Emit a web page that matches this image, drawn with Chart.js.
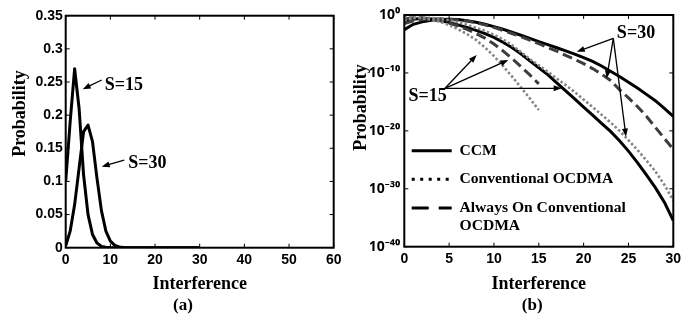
<!DOCTYPE html>
<html><head><meta charset="utf-8">
<script src="https://cdn.jsdelivr.net/npm/chart.js@4"></script>
<style>
html,body{margin:0;padding:0;background:#fff;}
#wrap{position:relative;width:699px;height:329px;overflow:hidden;background:#fff;}
#chartA{position:absolute;left:0;top:0;}
#chartB{position:absolute;left:350px;top:0;}
</style></head><body>
<div id="wrap">
<canvas id="chartA" width="350" height="329"></canvas>
<canvas id="chartB" width="349" height="329"></canvas>
</div>
<script>
// ---------- data ----------
const interference = [0,1,2,3,4,5,6,7,8,9,10,11,12,13,14,15,16,17,18,19,20,21,22,23,24,25,26,27,28,29,30];
const interference15 = [0,1,2,3,4,5,6,7,8,9,10,11,12,13,14,15];

// panel (a): linear probability
const probS15 = [0.1,0.19,0.27,0.21,0.11,0.05,0.02,0.007,0.002,0.0006,0.00014,0,0,0,0,0,0,0,0,0,0,0,0,0,0,0,0,0,0,0,0];
const probS30 = [0.003,0.025,0.065,0.12,0.175,0.185,0.16,0.105,0.056,0.025,0.01,0.0035,0.0011,0.0003,0.0001,0,0,0,0,0,0,0,0,0,0,0,0,0,0,0,0];

// panel (b): log probability
const ccmS30  = [3.0e-3,2.5e-2,6.5e-2,0.12,0.175,0.185,0.16,0.105,0.056,0.025,1.0e-2,3.5e-3,1.1e-3,3.2e-4,8.9e-5,2.5e-5,7.9e-6,2.2e-6,6.3e-7,1.8e-7,4.5e-8,1.0e-8,1.6e-9,2.0e-10,2.5e-11,2.5e-12,2.5e-13,2.0e-14,1.6e-15,7.9e-17,3.2e-18];
const aonS30  = [3.2e-2,0.1,0.166,0.21,0.22,0.19,0.14,8.9e-2,4.5e-2,2.0e-2,7.1e-3,2.2e-3,6.3e-4,1.8e-4,4.5e-5,1.1e-5,2.5e-6,5.6e-7,1.1e-7,2.2e-8,4.0e-9,5.6e-10,6.3e-11,5.0e-12,1.26e-13,5.0e-15,1.6e-16,3.2e-18,4.0e-20,5.0e-22,6.3e-24];
const convS30 = [0.126,0.28,0.35,0.32,0.22,0.126,5.6e-2,2.0e-2,6.3e-3,1.8e-3,4.0e-4,6.3e-5,6.3e-6,4.0e-7,2.5e-8,2.0e-9,1.6e-10,1.1e-11,7.9e-13,5.0e-14,2.5e-15,1.26e-16,6.3e-18,2.8e-19,1.0e-20,2.5e-22,5.0e-24,7.9e-26,1.0e-27,5.0e-30,1.0e-32];
const ccmS15  = [0.1,0.19,0.27,0.21,0.112,0.05,0.02,7.1e-3,2.2e-3,6.3e-4,1.4e-4,2.0e-5,2.5e-6,2.0e-7,1.26e-8,7.9e-10,5.0e-11,2.0e-12,7.9e-14,3.2e-15,1.26e-16,5.0e-18,2.0e-19,7.9e-21,2.0e-22,3.2e-24,3.2e-26,2.5e-28,1.6e-30,5.0e-33,3.2e-36];
const aonS15  = [0.2,0.32,0.32,0.2,0.1,0.04,1.26e-2,3.2e-3,6.3e-4,1.0e-4,1.0e-5,6.3e-7,3.2e-8,1.26e-9,4.5e-11,1.26e-12];
const convS15 = [0.45,0.42,0.28,0.14,7.0e-2,1.8e-2,3.5e-3,5.0e-4,5.0e-5,2.5e-6,7.9e-8,1.6e-9,2.5e-11,3.2e-13,4.0e-15,4.0e-17];

// ticks
const xTicksA = [0,10,20,30,40,50,60];
const yTicksA = [0,0.05,0.1,0.15,0.2,0.25,0.3,0.35];
const xTicksB = [0,5,10,15,20,25,30];
const yTicksB = [1e-40,1e-30,1e-20,1e-10,1];

// legend / labels
const legendNames = ['CCM','Conventional OCDMA',['Always On Conventional','OCDMA']];

// annotation anchors (data coordinates)
const annotA = [
  {text:'S=15', at:[13.05,0.2454], arrows:[[[8.06,0.253],[3.81,0.239]]]},
  {text:'S=30', at:[18.3,0.1278], arrows:[[[13.1,0.1323],[8.06,0.1222]]]}
];
const annotB = [
  {text:'S=30', at:[25.84,6.9e-4], arrows:[[[23.31,9.5e-5],[19.23,4.6e-7]],[[23.31,9.5e-5],[22.57,1.17e-11]],[[23.31,9.5e-5],[24.72,1e-21]]]},
  {text:'S=15', at:[2.59,7.9e-15], arrows:[[[4.54,2.2e-13],[8.07,1.26e-7]],[[4.54,2.2e-13],[11.6,1.7e-8]],[[4.54,2.2e-13],[17.55,2.2e-13]]]}
];

// ---------- helpers ----------
const pts = (xs, ys) => ys.map((y, i) => ({x: xs[i], y}));
const SERIF = '"Liberation Serif", "Times New Roman", serif';
const SANS = '"Liberation Sans", Arial, sans-serif';
const sup = {'-':'\u207B','0':'\u2070','1':'\u00B9','2':'\u00B2','3':'\u00B3','4':'\u2074','5':'\u2075'};

function arrow(ctx, x1, y1, x2, y2) {
  const a = Math.atan2(y2 - y1, x2 - x1), L = 8, W = 3;
  ctx.beginPath(); ctx.moveTo(x1, y1);
  ctx.lineTo(x2 - Math.cos(a) * (L - 1), y2 - Math.sin(a) * (L - 1)); ctx.stroke();
  ctx.beginPath(); ctx.moveTo(x2, y2);
  ctx.lineTo(x2 - L * Math.cos(a) + W * Math.sin(a), y2 - L * Math.sin(a) - W * Math.cos(a));
  ctx.lineTo(x2 - L * Math.cos(a) - W * Math.sin(a), y2 - L * Math.sin(a) + W * Math.cos(a));
  ctx.closePath(); ctx.fill();
}

const decor = {
  id: 'decor',
  afterLayout(chart, args, opts) {
    if (opts.legendShift && chart.legend) {
      const ca = chart.chartArea, lg = chart.legend;
      lg.left = ca.left + opts.legendShift[0]; lg.right = ca.right;
      lg.top = ca.top; lg.bottom = ca.bottom + opts.legendShift[1];
      lg.width = lg.right - lg.left; lg.height = lg.bottom - lg.top;
    }
  },
  afterDraw(chart, args, opts) {
    const {ctx, chartArea: ca, scales} = chart;
    const xs = scales.x, ys = scales.y;
    ctx.save();
    ctx.strokeStyle = '#000'; ctx.fillStyle = '#000';
    ctx.lineWidth = 1;
    ctx.beginPath();
    xs.ticks.forEach(t => {
      const p = xs.getPixelForValue(t.value);
      ctx.moveTo(p, ca.bottom); ctx.lineTo(p, ca.bottom - 4);
      ctx.moveTo(p, ca.top); ctx.lineTo(p, ca.top + 4);
    });
    ys.ticks.forEach(t => {
      const p = ys.getPixelForValue(t.value);
      ctx.moveTo(ca.left, p); ctx.lineTo(ca.left + 4, p);
      ctx.moveTo(ca.right, p); ctx.lineTo(ca.right - 4, p);
    });
    ctx.stroke();
    ctx.lineWidth = 2;
    ctx.strokeRect(ca.left, ca.top, ca.right - ca.left, ca.bottom - ca.top);
    // annotations
    ctx.font = 'bold 18px ' + SERIF;
    ctx.textAlign = 'center'; ctx.textBaseline = 'middle';
    ctx.lineWidth = 1.3;
    (opts.annotations || []).forEach(an => {
      ctx.fillText(an.text, xs.getPixelForValue(an.at[0]), ys.getPixelForValue(an.at[1]));
      an.arrows.forEach(([f, t]) => arrow(ctx,
        xs.getPixelForValue(f[0]), ys.getPixelForValue(f[1]),
        xs.getPixelForValue(t[0]), ys.getPixelForValue(t[1])));
    });
    // y title
    ctx.translate(opts.yTitlePos[0], opts.yTitlePos[1]);
    ctx.rotate(-Math.PI / 2);
    ctx.fillText(opts.yTitle, 0, 0);
    ctx.restore();
  }
};

const tickFont = {family: SANS, weight: 'bold', size: 14};
const titleFont = {family: SERIF, weight: 'bold', size: 18};

function baseX(ticksArr, max, height) {
  return {
    type: 'linear', min: 0, max: max,
    afterBuildTicks: s => { s.ticks = ticksArr.map(v => ({value: v})); },
    afterFit: s => { s.height = height; },
    grid: {display: false, drawTicks: false},
    border: {display: false},
    ticks: {font: tickFont, color: '#000', padding: 4.5, maxRotation: 0, autoSkip: false},
    title: {display: true, text: 'Interference', font: titleFont, color: '#000', padding: {top: 0, bottom: 1}}
  };
}
const captionFont = {family: SERIF, weight: 'bold', size: 17};
const captionPad = {top: 0, bottom: 12.8};

// ---------- chart (a) ----------
new Chart(document.getElementById('chartA'), {
  type: 'line',
  data: {
    datasets: [
      {label: 'S=15', data: pts(interference, probS15), borderColor: '#000', borderWidth: 3},
      {label: 'S=30', data: pts(interference, probS30), borderColor: '#000', borderWidth: 3}
    ]
  },
  options: {
    responsive: false, animation: false, devicePixelRatio: 1,
    parsing: false,
    elements: {point: {radius: 0}, line: {tension: 0, borderJoinStyle: 'round'}},
    layout: {padding: {left: 32.3, right: 16.3, top: 15.7, bottom: 0}},
    scales: {
      x: baseX(xTicksA, 60, 48.1),
      y: {
        type: 'linear', min: 0, max: 0.35,
        afterBuildTicks: s => { s.ticks = yTicksA.map(v => ({value: v})); },
        afterFit: s => { s.width = 33.4; },
        grid: {display: false, drawTicks: false},
        border: {display: false},
        ticks: {font: tickFont, color: '#000', padding: 3,
          callback: v => v === 0 ? '0' : String(parseFloat(Number(v).toFixed(2)))}
      }
    },
    plugins: {
      legend: {display: false},
      tooltip: {enabled: false},
      title: {display: true, text: '(a)', position: 'bottom', font: captionFont, color: '#000', padding: captionPad},
      decor: {yTitle: 'Probability', yTitlePos: [20.5, 113.5], annotations: annotA}
    }
  },
  plugins: [decor]
});

// ---------- chart (b) ----------
const dotted = [2.5, 2.2], dashed = [10, 5];
new Chart(document.getElementById('chartB'), {
  type: 'line',
  data: {
    datasets: [
      {label: 'Conventional OCDMA S=15', data: pts(interference15, convS15), borderColor: '#858585', borderWidth: 2.6, borderDash: dotted},
      {label: 'Conventional OCDMA S=30', data: pts(interference, convS30), borderColor: '#858585', borderWidth: 2.6, borderDash: dotted},
      {label: 'Always On Conventional OCDMA S=15', data: pts(interference15, aonS15), borderColor: '#3d3d3d', borderWidth: 3, borderDash: dashed},
      {label: 'Always On Conventional OCDMA S=30', data: pts(interference, aonS30), borderColor: '#3d3d3d', borderWidth: 3, borderDash: dashed},
      {label: 'CCM S=15', data: pts(interference, ccmS15), borderColor: '#000', borderWidth: 3},
      {label: 'CCM S=30', data: pts(interference, ccmS30), borderColor: '#000', borderWidth: 3}
    ]
  },
  options: {
    responsive: false, animation: false, devicePixelRatio: 1,
    parsing: false,
    elements: {point: {radius: 0}, line: {tension: 0}},
    layout: {padding: {left: 20, right: 4.5, top: 15, bottom: 0}},
    scales: {
      x: baseX(xTicksB, 30, 49.1),
      y: {
        type: 'logarithmic', min: 1e-40, max: 1,
        afterBuildTicks: s => { s.ticks = yTicksB.map(v => ({value: v})); },
        afterFit: s => { s.width = 34.3; },
        grid: {display: false, drawTicks: false},
        border: {display: false},
        ticks: {font: {family: '"Noto Sans", "DejaVu Sans", sans-serif', weight: 'bold', size: 14}, color: '#000', padding: 4,
          callback: v => '10' + String(Math.round(Math.log10(v))).split('').map(c => sup[c]).join('')}
      },
      // empty spacer on the right so that the bottom caption "(b)" sits where it does in the figure
      spacer: {
        type: 'linear', position: 'right', display: true,
        afterFit: s => { s.width = 21.2; },
        grid: {display: false, drawTicks: false},
        border: {display: false},
        ticks: {display: false}
      }
    },
    plugins: {
      tooltip: {enabled: false},
      title: {display: true, text: '(b)', position: 'bottom', font: captionFont, color: '#000', padding: captionPad},
      legend: {
        display: true, position: 'chartArea', align: 'end',
        labels: {
          font: {family: SERIF, weight: 'bold', size: 15.6, lineHeight: 1.18},
          color: '#000', padding: 13, usePointStyle: true, pointStyleWidth: 40,
          generateLabels: () => [
            {text: legendNames[0], pointStyle: 'line', strokeStyle: '#000', fillStyle: '#000', lineWidth: 3, lineDash: [], fontColor: '#000', hidden: false, datasetIndex: 4},
            {text: legendNames[1], pointStyle: 'line', strokeStyle: '#000', fillStyle: '#000', lineWidth: 3, lineDash: [3, 5.5], fontColor: '#000', hidden: false, datasetIndex: 0},
            {text: legendNames[2], pointStyle: 'line', strokeStyle: '#000', fillStyle: '#000', lineWidth: 3, lineDash: [17, 10], fontColor: '#000', hidden: false, datasetIndex: 2}
          ]
        }
      },
      decor: {yTitle: 'Probability', yTitlePos: [11.7, 107.5], annotations: annotB, legendShift: [-5.6, 3.2]}
    }
  },
  plugins: [decor]
});
</script>
</body></html>
